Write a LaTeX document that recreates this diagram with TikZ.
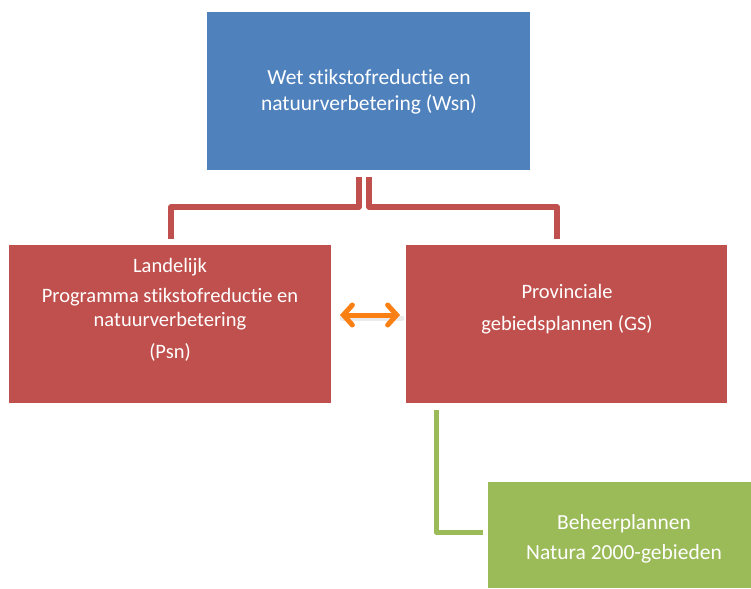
\documentclass[tikz,border=0pt]{standalone}
\usepackage{fontspec}
\setmainfont[Ligatures=NoCommon]{Carlito}
\usetikzlibrary{arrows.meta,calc}
\definecolor{cblue}{HTML}{4F81BD}
\definecolor{cred}{HTML}{C0504D}
\definecolor{cgreen}{HTML}{9BBB59}
\definecolor{corange}{RGB}{250,128,20}
\tikzset{
  box/.style={draw=none,inner sep=0pt,outer sep=0pt},
  lbl/.style={text=white,align=center,font=\fontsize{20.5}{24.5}\selectfont,inner sep=0pt},
  lblbig/.style={lbl,font=\fontsize{21.5}{25}\selectfont},
  redline/.style={draw=cred,line width=5.3pt,line join=round},
  greenline/.style={draw=cgreen,line width=5pt,line join=round},
  dblarrow/.style={draw=corange,line width=5pt,line cap=round,
    {Straight Barb[length=9pt,width=20pt,line cap=round]}-{Straight Barb[length=9pt,width=20pt,line cap=round]}}
}
\begin{document}
\begin{tikzpicture}[x=1pt,y=-1pt]
\useasboundingbox (0,0) rectangle (751,588);
\fill[white] (0,0) rectangle (751,588);
% boxes
\node[box,fill=cblue,minimum width=323pt,minimum height=158pt] (wsn) at (368.5,91) {};
\node[box,fill=cred,minimum width=322pt,minimum height=158pt] (lnd) at (170,324) {};
\node[box,fill=cred,minimum width=321pt,minimum height=158pt] (rgs) at (566.5,324) {};
\node[box,fill=cgreen,minimum width=270pt,minimum height=106pt] (beh) at (623,535) {};
% texts
\node[lblbig] (twsn) at (369,92) {Wet stikstofreductie en\\[1pt]natuurverbetering (Wsn)};
\node[lbl] (tlnd) at (170,310) {Landelijk\\[5.5pt]Programma stikstofreductie en\\natuurverbetering\\[7.5pt](Psn)};
\node[lbl] (trgs) at (567,309.5) {Provinciale\\[7.5pt]gebiedsplannen (GS)};
\node[lblbig] (tbeh) at (624,539) {Beheerplannen\\[5pt]Natura 2000-gebieden};
% connectors
\draw[redline] ([xshift=-9.5pt,yshift=-7pt]wsn.south) -- ++(0,30) -| ([xshift=1pt,yshift=6pt]lnd.north);
\draw[redline] ([xshift=0.5pt,yshift=-7pt]wsn.south) -- ++(0,30) -| ([xshift=-9.5pt,yshift=6pt]rgs.north);
\draw[greenline] ([xshift=-130.5pt,yshift=-7pt]rgs.south) |- ([xshift=-5pt,yshift=3pt]beh.west);
\draw[draw=black!15,line width=5pt,line cap=round,opacity=0.5] ([xshift=11pt,yshift=6pt]lnd.east) -- ([xshift=-4pt,yshift=6pt]rgs.west);
\draw[dblarrow] ([xshift=9pt,yshift=9pt]lnd.east) -- ([xshift=-6pt,yshift=9pt]rgs.west);
\end{tikzpicture}
\end{document}
